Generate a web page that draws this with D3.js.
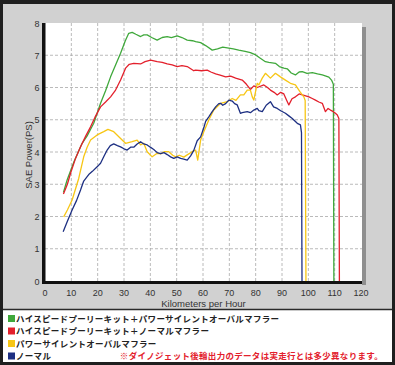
<!DOCTYPE html>
<html>
<head>
<meta charset="utf-8">
<script src="https://cdn.jsdelivr.net/npm/d3@7"></script>
<style>
  body { margin: 0; background: #fff; }
  svg { display: block; }
  .tick-label { font-family: "Liberation Sans", Arial, sans-serif; font-size: 9px; fill: #333; }
  .axis-title { font-family: "Liberation Sans", Arial, sans-serif; font-size: 9.5px; fill: #333; }
  .legend-text { font-family: "Noto Sans CJK JP", sans-serif; font-size: 8.5px; letter-spacing: 0.3px; font-weight: bold; fill: #222; }
</style>
</head>
<body>
<div id="chart"></div>
<script>
// speed (km/h) and power (PS)
var greenSpeed = [7, 8.4, 11, 14.1, 16, 18.5, 21.1, 23, 24.9, 26.8, 28.7, 30.5, 31.8, 33.1, 34.5, 36.3, 37.5, 38.8, 40.5, 42.6, 44.5, 46.4, 48, 50.2, 52, 54, 56, 57.2, 59.1, 61, 63.5, 65.5, 67.5, 69.8, 71.5, 73.6, 76, 78, 80, 81.5, 83.7, 85, 87.5, 89, 90.7, 92, 93.5, 95.1, 96.5, 97.7, 99.5, 101.5, 103.5, 105.3, 107.8, 108.8, 109.5, 109.7]
var greenPower = [2.75, 3.13, 3.7, 4.27, 4.5, 4.89, 5.51, 5.9, 6.33, 6.7, 7.06, 7.45, 7.68, 7.71, 7.65, 7.58, 7.63, 7.63, 7.55, 7.47, 7.55, 7.58, 7.55, 7.6, 7.55, 7.47, 7.45, 7.42, 7.39, 7.3, 7.16, 7.2, 7.25, 7.22, 7.2, 7.16, 7.12, 7.08, 7.01, 6.92, 6.8, 6.78, 6.75, 6.65, 6.6, 6.58, 6.45, 6.39, 6.48, 6.49, 6.44, 6.46, 6.42, 6.39, 6.32, 6.23, 6.1, 0]

var redSpeed = [7, 8.5, 9.7, 11.5, 13.5, 15.5, 17.3, 19, 21.1, 23, 24.9, 26.8, 28.7, 30.6, 32, 33.7, 36.3, 38, 40.1, 42.6, 44.5, 46.4, 48.3, 50.2, 52, 54, 56.5, 57.2, 59.5, 61.6, 63, 64.8, 66.5, 68.6, 70.5, 72.4, 74.9, 76.5, 78, 79.3, 80.6, 83.1, 84.5, 85.6, 87, 88.2, 89.5, 90.7, 91.8, 92.6, 93.8, 95.1, 96.5, 97.7, 99, 100.2, 101.5, 102.7, 104, 105.3, 106.5, 107.5, 108.4, 109.5, 110.3, 111, 111.6, 111.8]
var redPower = [2.7, 3.0, 3.34, 3.78, 4.16, 4.5, 4.78, 5.08, 5.4, 5.55, 5.71, 5.92, 6.23, 6.6, 6.72, 6.75, 6.73, 6.8, 6.85, 6.8, 6.78, 6.73, 6.7, 6.65, 6.68, 6.65, 6.52, 6.54, 6.52, 6.54, 6.48, 6.42, 6.38, 6.33, 6.35, 6.29, 6.23, 6.1, 5.94, 6.05, 6.0, 6.08, 6.0, 5.92, 5.85, 5.77, 5.85, 5.8, 5.6, 5.46, 5.65, 5.71, 5.8, 5.77, 5.74, 5.71, 5.66, 5.61, 5.55, 5.51, 5.25, 5.35, 5.3, 5.25, 5.2, 5.15, 5.04, 0]

var yellowSpeed = [7.1, 8.5, 10.3, 12.8, 14.7, 16, 17.3, 19.8, 22.3, 23.9, 26.1, 28.7, 30.6, 33.1, 35, 36.3, 37.5, 38.8, 40.7, 42.6, 43.9, 45.2, 47, 48.5, 49.6, 51, 52.7, 54, 55.9, 57.2, 58, 59.1, 60.3, 62.2, 64.1, 66.7, 69.2, 71.1, 72.5, 74.2, 75.5, 76.8, 78, 78.7, 79.3, 80.6, 81.2, 82.5, 83.7, 85.6, 87.5, 89.4, 91.3, 93.2, 95.1, 96.8, 98.3, 98.8, 99.1]
var yellowPower = [1.99, 2.2, 2.51, 3.18, 3.85, 4.15, 4.37, 4.53, 4.63, 4.7, 4.63, 4.42, 4.27, 4.32, 4.37, 4.22, 4.27, 4.01, 3.85, 3.96, 3.94, 4.01, 4.01, 3.9, 3.85, 3.9, 3.84, 3.91, 4.01, 4.06, 3.75, 4.37, 4.63, 4.99, 5.3, 5.51, 5.56, 5.66, 5.6, 5.77, 5.77, 5.92, 5.92, 5.71, 5.61, 6.13, 6.08, 6.29, 6.44, 6.29, 6.44, 6.33, 6.23, 6.13, 6.08, 5.87, 5.71, 5.6, 0]

var blueSpeed = [6.9, 8.5, 10.3, 12, 13.5, 14.7, 16.6, 18, 19.8, 21.1, 22.3, 23.6, 24.8, 26.1, 27.5, 28.7, 30, 31.2, 32.5, 33.7, 35, 36.3, 37.5, 38.8, 40, 41.3, 42.6, 43.9, 45.2, 46.4, 47.7, 48.9, 50.2, 51.5, 52.7, 54, 55.3, 56.5, 57.8, 59.1, 60.3, 61, 62.2, 63.5, 64.8, 66, 66.7, 67.5, 68.6, 69.8, 71.1, 72, 73, 74.2, 74.9, 76.8, 78, 79.3, 80.6, 81.2, 82.5, 84, 85.6, 86.8, 88.2, 89.5, 91.3, 92.6, 93.9, 95.8, 97, 97.4, 97.6]
var bluePower = [1.53, 1.85, 2.2, 2.5, 2.82, 3.1, 3.3, 3.4, 3.54, 3.65, 3.85, 4.06, 4.2, 4.25, 4.2, 4.16, 4.1, 4.06, 4.15, 4.15, 4.25, 4.32, 4.25, 4.22, 4.15, 4.08, 3.98, 3.95, 3.98, 3.92, 3.85, 3.8, 3.85, 3.8, 3.78, 3.75, 3.88, 4.05, 4.35, 4.47, 4.75, 4.95, 5.09, 5.25, 5.4, 5.5, 5.51, 5.45, 5.5, 5.61, 5.58, 5.5, 5.46, 5.2, 5.22, 5.25, 5.22, 5.3, 5.35, 5.28, 5.25, 5.45, 5.56, 5.4, 5.35, 5.28, 5.2, 5.12, 5.04, 4.89, 4.84, 4.6, 0]

var xTicks = [0, 10, 20, 30, 40, 50, 60, 70, 80, 90, 100, 110, 120]
var yTicks = [0, 1, 2, 3, 4, 5, 6, 7, 8]

var legendNames = ["ハイスピードプーリーキット＋パワーサイレントオーバルマフラー", "ハイスピードプーリーキット＋ノーマルマフラー", "パワーサイレントオーバルマフラー", "ノーマル"]
var legendColors = ["#3fa83b", "#e3202c", "#f7c615", "#1d2f82"]
var noteText = "※ダイノジェット後輪出力のデータは実走行とは多少異なります。"

var W = 395, H = 365
var plot = { left: 45, top: 23, right: 362, bottom: 281 }

var svg = d3.select("#chart").append("svg")
    .attr("width", W)
    .attr("height", H)

// outer frame + grey panel
svg.append("rect").attr("x", 0).attr("y", 0).attr("width", W).attr("height", H).attr("fill", "#1f1f1f")
svg.append("rect").attr("x", 3).attr("y", 4).attr("width", W - 6).attr("height", H - 7).attr("fill", "#d1d1d1")

// legend box
svg.append("rect").attr("x", 3).attr("y", 310).attr("width", W - 6).attr("height", 52).attr("fill", "#fff")
svg.append("line").attr("x1", 3).attr("x2", W - 3).attr("y1", 309.5).attr("y2", 309.5)
    .attr("stroke", "#2a2a2a").attr("stroke-width", 1.5)

var x = d3.scaleLinear().domain([0, 120]).range([plot.left, plot.right - 1])
var y = d3.scaleLinear().domain([0, 8]).range([plot.bottom, plot.top])

// shadow + white plot area
svg.append("rect").attr("x", plot.right).attr("y", plot.top + 4).attr("width", 4).attr("height", plot.bottom - plot.top)
    .attr("fill", "#8f8f8f")
svg.append("rect").attr("x", plot.left).attr("y", plot.top)
    .attr("width", plot.right - plot.left).attr("height", plot.bottom - plot.top).attr("fill", "#fff")

// dashed grid
var grid = svg.append("g").attr("stroke", "#a8a8a8").attr("stroke-width", 0.8).attr("stroke-dasharray", "3,2")
grid.selectAll(".vg").data(xTicks.filter(function (d) { return d > 0 && d < 120 })).enter().append("line")
    .attr("x1", function (d) { return x(d) }).attr("x2", function (d) { return x(d) })
    .attr("y1", plot.top).attr("y2", plot.bottom)
grid.selectAll(".hg").data(yTicks.filter(function (d) { return d > 0 && d < 8 })).enter().append("line")
    .attr("x1", plot.left).attr("x2", plot.right)
    .attr("y1", function (d) { return y(d) }).attr("y2", function (d) { return y(d) })

// curves
var series = [
    { s: greenSpeed, p: greenPower, c: legendColors[0] },
    { s: redSpeed, p: redPower, c: legendColors[1] },
    { s: yellowSpeed, p: yellowPower, c: legendColors[2] },
    { s: blueSpeed, p: bluePower, c: legendColors[3] }
]
var line = d3.line()
    .x(function (d) { return x(d[0]) })
    .y(function (d) { return y(d[1]) })

series.forEach(function (ser) {
    var pts = d3.zip(ser.s, ser.p)
    svg.append("path")
        .datum(pts)
        .attr("fill", "none")
        .attr("stroke", ser.c)
        .attr("stroke-width", 1.3)
        .attr("stroke-linejoin", "round")
        .attr("d", line)
})

// thick black axes
svg.append("rect").attr("x", plot.left - 3).attr("y", plot.top).attr("width", 3.5).attr("height", plot.bottom - plot.top + 3)
    .attr("fill", "#111")
svg.append("rect").attr("x", plot.left - 3).attr("y", plot.bottom).attr("width", plot.right - plot.left + 3).attr("height", 3)
    .attr("fill", "#111")

// tick labels
svg.selectAll(".xl").data(xTicks).enter().append("text")
    .attr("class", "tick-label")
    .attr("x", function (d) { return x(d) })
    .attr("y", 296)
    .attr("text-anchor", "middle")
    .text(function (d) { return d })
svg.selectAll(".yl").data(yTicks).enter().append("text")
    .attr("class", "tick-label")
    .attr("x", 39.5)
    .attr("y", function (d) { return y(d) + 3.5 })
    .attr("text-anchor", "end")
    .text(function (d) { return d })

svg.append("text").attr("class", "axis-title")
    .attr("x", (plot.left + plot.right) / 2).attr("y", 307)
    .attr("text-anchor", "middle")
    .text("Kilometers per Hour")
svg.append("text").attr("class", "axis-title")
    .attr("transform", "translate(32," + ((plot.top + plot.bottom) / 2 + 3) + ") rotate(-90)")
    .attr("text-anchor", "middle")
    .text("SAE Power(PS)")

// legend
var rowY = [318.5, 331, 343.5, 356]
legendNames.forEach(function (name, i) {
    svg.append("rect").attr("x", 8).attr("y", rowY[i] - 3.5).attr("width", 7).attr("height", 7).attr("fill", legendColors[i])
    svg.append("text").attr("class", "legend-text")
        .attr("x", 16).attr("y", rowY[i] + 3)
        .text(name)
})
svg.append("text").attr("class", "legend-text")
    .attr("x", 383).attr("y", rowY[3] + 3)
    .attr("text-anchor", "end")
    .style("fill", "#e3202c")
    .text(noteText)
</script>
</body>
</html>
